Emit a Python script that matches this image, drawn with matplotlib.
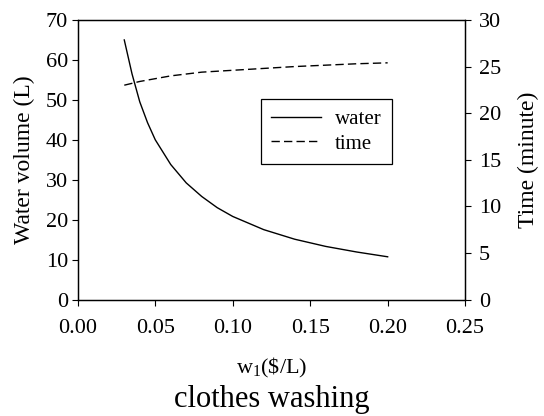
import matplotlib.pyplot as plt

price = [0.030, 0.035, 0.040, 0.045, 0.050, 0.060, 0.070, 0.080, 0.090, 0.100,
         0.120, 0.140, 0.160, 0.180, 0.200]
water = [65.0, 56.5, 49.5, 44.3, 40.0, 33.8, 29.2, 25.8, 23.0, 20.8,
         17.5, 15.1, 13.3, 11.9, 10.7]
time_min = [23.0, 23.2, 23.4, 23.55, 23.7, 24.0, 24.2, 24.4, 24.5, 24.6,
            24.8, 25.0, 25.15, 25.3, 25.4]

plt.rcParams["font.family"] = ["Liberation Serif", "DejaVu Serif"]
plt.rcParams["font.size"] = 16
plt.rcParams["mathtext.fontset"] = "custom"
plt.rcParams["mathtext.rm"] = "Liberation Serif"
plt.rcParams["mathtext.it"] = "Liberation Serif:italic"

fig, ax = plt.subplots(figsize=(5.44, 4.16), dpi=100)
fig.subplots_adjust(left=0.143, right=0.855, top=0.952, bottom=0.28)

l1, = ax.plot(price, water, color="black", lw=1.0, label="water")
ax.set_xlim(0, 0.25)
ax.set_ylim(0, 70)
ax.set_xticks([0.0, 0.05, 0.10, 0.15, 0.20, 0.25])
ax.set_xticklabels(["0.00", "0.05", "0.10", "0.15", "0.20", "0.25"])
ax.set_yticks(range(0, 71, 10))
ax.set_ylabel("Water volume (L)", labelpad=8, fontsize=17)
ax.set_xlabel("w$_\\mathrm{1}$(\\$/L)", labelpad=13)
ax.tick_params(axis="y", direction="out", length=4, width=0.8, pad=3)
ax.tick_params(axis="x", direction="out", length=4, width=0.8, pad=10)

ax2 = ax.twinx()
l2, = ax2.plot(price, time_min, color="black", lw=1.0, ls=(0, (6, 3)), label="time")
ax2.set_ylim(0, 30)
ax2.set_yticks(range(0, 31, 5))
ax2.set_ylabel("Time (minute)", labelpad=12, fontsize=17)
ax2.tick_params(direction="out", length=4, width=0.8, pad=6)

for a in (ax, ax2):
    for s in a.spines.values():
        s.set_linewidth(0.9)

leg = ax.legend(handles=[l1, l2], loc="upper left", bbox_to_anchor=(0.473, 0.718),
                borderaxespad=0, frameon=True, fancybox=False, edgecolor="black",
                framealpha=1, fontsize=15, handlelength=2.4, handletextpad=0.65,
                borderpad=0.5, labelspacing=0.25)
leg.get_frame().set_linewidth(0.9)

fig.text(0.5, 0.022, "clothes washing", ha="center", va="baseline", fontsize=22)

fig.savefig("out.png")
